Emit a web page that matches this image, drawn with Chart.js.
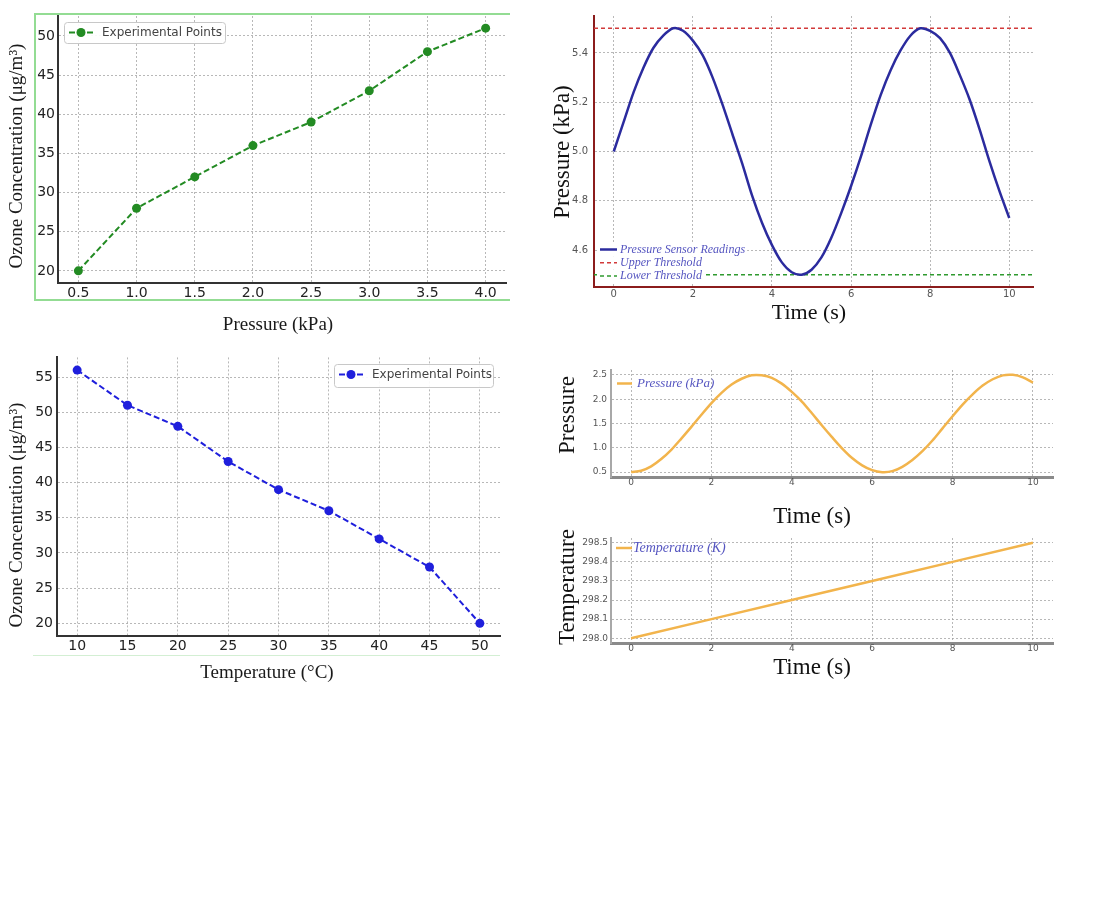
<!DOCTYPE html>
<html><head><meta charset="utf-8">
<script src="https://cdn.jsdelivr.net/npm/chart.js@4.4.1/dist/chart.umd.min.js"></script>
<style>
html,body{margin:0;padding:0;background:#fff;}
body{width:1100px;height:914px;position:relative;overflow:hidden;}
canvas{position:absolute;}
.frame{position:absolute;box-sizing:content-box;}
</style></head><body>
<div class="frame" style="left:34px;top:13px;width:474px;height:284px;border-left:2px solid #93dc93;border-top:2px solid #93dc93;border-bottom:2px solid #93dc93;"></div>
<div class="frame" style="left:33px;top:655px;width:467px;height:0;border-top:1px solid #d3efd3;"></div>
<canvas id="c1" width="520" height="336" style="left:0px;top:4px"></canvas>
<canvas id="c2" width="500" height="336" style="left:550px;top:4px"></canvas>
<canvas id="c3" width="515" height="345" style="left:0px;top:345px"></canvas>
<canvas id="c4" width="515" height="172" style="left:550px;top:360px"></canvas>
<canvas id="c5" width="515" height="160" style="left:550px;top:528px"></canvas>
<script>
// ---------- data ----------
const pressureKPa = [0.5, 1.0, 1.5, 2.0, 2.5, 3.0, 3.5, 4.0];
const ozoneVsPressure = [20, 28, 32, 36, 39, 43, 48, 51];
const temperatureC = [10, 15, 20, 25, 30, 35, 40, 45, 50];
const ozoneVsTemperature = [56, 51, 48, 43, 39, 36, 32, 28, 20];

const sensorTime = [0, 0.25, 0.5, 0.75, 1, 1.25, 1.5, 1.75, 2, 2.25, 2.5, 2.75, 3, 3.25, 3.5, 3.75, 4, 4.25, 4.5, 4.75,
  5, 5.25, 5.5, 5.75, 6, 6.25, 6.5, 6.75, 7, 7.25, 7.5, 7.75, 8, 8.25, 8.5, 8.75, 9, 9.25, 9.5, 9.75, 10];
const sensorPressure = [5.00, 5.12, 5.24, 5.34, 5.42, 5.47, 5.50, 5.49, 5.45, 5.39, 5.30, 5.19, 5.07, 4.95, 4.82, 4.71,
  4.62, 4.55, 4.51, 4.50, 4.52, 4.57, 4.65, 4.75, 4.86, 4.98, 5.11, 5.23, 5.33, 5.41, 5.47, 5.50, 5.49, 5.46, 5.40,
  5.31, 5.21, 5.09, 4.96, 4.84, 4.73];
const upperThreshold = 5.5;
const lowerThreshold = 4.5;

const pressTime = [0, 0.25, 0.5, 0.75, 1, 1.25, 1.5, 1.75, 2, 2.25, 2.5, 2.75, 3, 3.25, 3.5, 3.75, 4, 4.25, 4.5, 4.75,
  5, 5.25, 5.5, 5.75, 6, 6.25, 6.5, 6.75, 7, 7.25, 7.5, 7.75, 8, 8.25, 8.5, 8.75, 9, 9.25, 9.5, 9.75, 10];
const pressureKPaSeries = [0.50, 0.53, 0.62, 0.77, 0.96, 1.19, 1.43, 1.68, 1.92, 2.13, 2.30, 2.42, 2.49, 2.49, 2.44,
  2.32, 2.15, 1.95, 1.71, 1.46, 1.22, 0.99, 0.79, 0.64, 0.54, 0.50, 0.52, 0.61, 0.75, 0.93, 1.15, 1.40, 1.65, 1.89,
  2.10, 2.28, 2.41, 2.49, 2.50, 2.45, 2.34];
const tempTime = [0, 2, 4, 6, 8, 10];
const temperatureK = [298.0, 298.1, 298.2, 298.3, 298.4, 298.5];

// tick labels
const c1XTicks = [0.5, 1.0, 1.5, 2.0, 2.5, 3.0, 3.5, 4.0];
const c1YTicks = [20, 25, 30, 35, 40, 45, 50];
const c2XTicks = [0, 2, 4, 6, 8, 10];
const c2YTicks = [4.6, 4.8, 5.0, 5.2, 5.4];
const c3XTicks = [10, 15, 20, 25, 30, 35, 40, 45, 50];
const c3YTicks = [20, 25, 30, 35, 40, 45, 50, 55];
const c4XTicks = [0, 2, 4, 6, 8, 10];
const c4YTicks = [0.5, 1.0, 1.5, 2.0, 2.5];
const c5YTicks = [298.0, 298.1, 298.2, 298.3, 298.4, 298.5];

// axis ranges
const c2XMin = -0.5, c2XMax = 10.6;

// ---------- helpers ----------
const pts = (xs, ys) => xs.map((x, i) => ({x: x, y: ys[i]}));

const legendPlugin = {
  id: 'customLegend',
  afterDraw(chart, args, o) {
    const ctx = chart.ctx;
    ctx.save();
    if (o.box) {
      const b = o.box;
      ctx.fillStyle = 'rgba(255,255,255,0.92)';
      ctx.strokeStyle = b.color;
      ctx.lineWidth = 1;
      ctx.beginPath();
      ctx.roundRect(b.x + 0.5, b.y + 0.5, b.w, b.h, 3);
      ctx.fill(); ctx.stroke();
    }
    chart.data.datasets.forEach((ds, i) => {
      const y = o.y + i * o.rowH;
      ctx.font = o.font;
      if (o.halo) {
        const tw = ctx.measureText(ds.label).width;
        ctx.fillStyle = '#fff';
        ctx.fillRect(o.x - 3, y - o.rowH / 2, o.lineW + o.gap + tw + 5, o.rowH);
      }
      ctx.strokeStyle = ds.borderColor;
      ctx.lineWidth = ds.borderWidth;
      ctx.setLineDash(ds.borderDash || []);
      ctx.beginPath(); ctx.moveTo(o.x, y); ctx.lineTo(o.x + o.lineW, y); ctx.stroke();
      ctx.setLineDash([]);
      if (ds.pointRadius > 0) {
        ctx.fillStyle = ds.pointBackgroundColor;
        ctx.beginPath(); ctx.arc(o.x + o.lineW / 2, y, ds.pointRadius, 0, Math.PI * 2); ctx.fill();
      }
      ctx.fillStyle = o.color;
      ctx.textAlign = 'left'; ctx.textBaseline = 'middle';
      ctx.fillText(ds.label, o.x + o.lineW + o.gap, y);
    });
    ctx.restore();
  }
};

const titlePlugin = {
  id: 'axisTitles',
  afterDraw(chart, args, o) {
    const ctx = chart.ctx;
    (o.items || []).forEach(t => {
      ctx.save();
      ctx.translate(t.x, t.y);
      if (t.rot) ctx.rotate(-Math.PI / 2);
      ctx.font = t.font; ctx.fillStyle = t.color || '#111';
      ctx.textAlign = 'center'; ctx.textBaseline = 'middle';
      ctx.fillText(t.text, 0, 0);
      ctx.restore();
    });
  }
};

function axis(o) {
  return {
    type: 'linear', min: o.min, max: o.max,
    afterBuildTicks: s => { s.ticks = o.ticks.map(v => ({value: v})); },
    afterFit: s => { if (o.width !== undefined) s.width = o.width; if (o.height !== undefined) s.height = o.height; },
    ticks: {autoSkip: false, maxRotation: 0, padding: o.pad, color: o.tickColor,
      font: {family: 'DejaVu Sans', size: o.tickSize},
      callback: v => o.fmt(v)},
    grid: {color: o.gridColor || 'rgba(160,160,160,0.75)', lineWidth: 1, drawTicks: false},
    border: {display: true, color: o.borderColor, width: o.borderWidth, dash: [2, 2]}
  };
}

function base(padding, scales, legend, titles) {
  return {
    responsive: false, animation: false, devicePixelRatio: 1,
    layout: {padding: padding},
    scales: scales,
    plugins: {legend: {display: false}, tooltip: {enabled: false}, customLegend: legend, axisTitles: titles}
  };
}

const serif = 'Liberation Serif';
const fmt1 = v => v.toFixed(1);
const fmt0 = v => String(v);

// ---------- chart 1 ----------
new Chart(document.getElementById('c1'), {
  type: 'line',
  data: {datasets: [{
    label: 'Experimental Points', data: pts(pressureKPa, ozoneVsPressure),
    borderColor: '#238b23', borderWidth: 2, borderDash: [6, 3],
    pointRadius: 4.5, pointBackgroundColor: '#238b23', pointBorderWidth: 0, tension: 0
  }]},
  options: base({top: 12, right: 14, left: 0, bottom: 0}, {
    x: axis({min: 0.325, max: 4.175, ticks: c1XTicks, fmt: fmt1, height: 57, pad: 2, tickColor: '#222', tickSize: 14, borderColor: '#333', borderWidth: 2}),
    y: axis({min: 18.45, max: 52.55, ticks: c1YTicks, fmt: fmt0, width: 58, pad: 3, tickColor: '#222', tickSize: 14, borderColor: '#333', borderWidth: 2})
  },
  {x: 69, y: 28.5, rowH: 0, lineW: 24, gap: 9, font: '12px "DejaVu Sans"', color: '#444',
   box: {x: 64, y: 18, w: 161, h: 21, color: '#c8c8c8'}},
  {items: [
    {text: 'Ozone Concentration (μg/m³)', x: 17, y: 152, rot: true, font: '19px "' + serif + '"', color: '#1a1a1a'},
    {text: 'Pressure (kPa)', x: 278, y: 321, font: '19px "' + serif + '"', color: '#1a1a1a'}
  ]}),
  plugins: [legendPlugin, titlePlugin]
});

// ---------- chart 2 ----------
new Chart(document.getElementById('c2'), {
  type: 'line',
  data: {datasets: [
    {label: 'Pressure Sensor Readings', data: pts(sensorTime, sensorPressure),
     borderColor: '#2b2b9e', borderWidth: 2.5, pointRadius: 0, tension: 0.3},
    {label: 'Upper Threshold', data: [{x: c2XMin, y: upperThreshold}, {x: c2XMax, y: upperThreshold}],
     borderColor: '#d23a3a', borderWidth: 1.5, borderDash: [4, 3], pointRadius: 0},
    {label: 'Lower Threshold', data: [{x: c2XMin, y: lowerThreshold}, {x: c2XMax, y: lowerThreshold}],
     borderColor: '#2f9a2f', borderWidth: 1.5, borderDash: [4, 3], pointRadius: 0}
  ]},
  options: base({top: 12, right: 17, left: 0, bottom: 0}, {
    x: axis({min: c2XMin, max: c2XMax, ticks: c2XTicks, fmt: fmt0, height: 53, pad: 1, tickColor: '#555', tickSize: 10, borderColor: '#8b1c1c', borderWidth: 2}),
    y: axis({min: 4.45, max: 5.55, ticks: c2YTicks, fmt: fmt1, width: 44, pad: 6, tickColor: '#555', tickSize: 10, borderColor: '#8b1c1c', borderWidth: 2})
  },
  {x: 50, y: 245.5, rowH: 13.3, lineW: 17, gap: 3, font: 'italic 12px "' + serif + '"', color: '#5555c0', box: null, halo: true},
  {items: [
    {text: 'Pressure (kPa)', x: 13, y: 148, rot: true, font: '23px "' + serif + '"', color: '#111'},
    {text: 'Time (s)', x: 259, y: 309, font: '22px "' + serif + '"', color: '#111'}
  ]}),
  plugins: [legendPlugin, titlePlugin]
});

// ---------- chart 3 ----------
new Chart(document.getElementById('c3'), {
  type: 'line',
  data: {datasets: [{
    label: 'Experimental Points', data: pts(temperatureC, ozoneVsTemperature),
    borderColor: '#1f1fdc', borderWidth: 2, borderDash: [6, 3],
    pointRadius: 4.5, pointBackgroundColor: '#1f1fdc', pointBorderWidth: 0, tension: 0
  }]},
  options: base({top: 12, right: 15, left: 0, bottom: 0}, {
    x: axis({min: 8, max: 52, ticks: c3XTicks, fmt: fmt0, height: 54, pad: 2, tickColor: '#222', tickSize: 14, borderColor: '#333', borderWidth: 2}),
    y: axis({min: 18.2, max: 57.8, ticks: c3YTicks, fmt: fmt0, width: 57, pad: 4, tickColor: '#222', tickSize: 14, borderColor: '#333', borderWidth: 2})
  },
  {x: 339, y: 29.5, rowH: 0, lineW: 24, gap: 9, font: '12px "DejaVu Sans"', color: '#444',
   box: {x: 334, y: 19, w: 159, h: 23, color: '#c8c8c8'}},
  {items: [
    {text: 'Ozone Concentration (μg/m³)', x: 17, y: 170, rot: true, font: '19px "' + serif + '"', color: '#1a1a1a'},
    {text: 'Temperature (°C)', x: 267, y: 328, font: '19px "' + serif + '"', color: '#1a1a1a'}
  ]}),
  plugins: [legendPlugin, titlePlugin]
});

// ---------- chart 4 ----------
new Chart(document.getElementById('c4'), {
  type: 'line',
  data: {datasets: [{
    label: 'Pressure (kPa)', data: pts(pressTime, pressureKPaSeries),
    borderColor: '#f2b44c', borderWidth: 2.5, pointRadius: 0, tension: 0.3
  }]},
  options: base({top: 10, right: 12, left: 0, bottom: 0}, {
    x: axis({min: -0.5, max: 10.5, ticks: c4XTicks, fmt: fmt0, height: 55, pad: 0, tickColor: '#555', tickSize: 9, borderColor: '#8a8a8a', borderWidth: 3}),
    y: axis({min: 0.4, max: 2.6, ticks: c4YTicks, fmt: fmt1, width: 61, pad: 4, tickColor: '#555', tickSize: 9, borderColor: '#a8a8a8', borderWidth: 2})
  },
  {x: 67, y: 23.5, rowH: 0, lineW: 15, gap: 5, font: 'italic 13px "' + serif + '"', color: '#5555c0', box: null},
  {items: [
    {text: 'Pressure', x: 18, y: 55, rot: true, font: '23px "' + serif + '"', color: '#111'},
    {text: 'Time (s)', x: 262, y: 157, font: '23px "' + serif + '"', color: '#111'}
  ]}),
  plugins: [legendPlugin, titlePlugin]
});

// ---------- chart 5 ----------
new Chart(document.getElementById('c5'), {
  type: 'line',
  data: {datasets: [{
    label: 'Temperature (K)', data: pts(tempTime, temperatureK),
    borderColor: '#f2b44c', borderWidth: 2.5, pointRadius: 0, tension: 0
  }]},
  options: base({top: 10, right: 12, left: 0, bottom: 0}, {
    x: axis({min: -0.5, max: 10.5, ticks: c4XTicks, fmt: fmt0, height: 45, pad: 0, tickColor: '#555', tickSize: 9, borderColor: '#8a8a8a', borderWidth: 3}),
    y: axis({min: 297.975, max: 298.525, ticks: c5YTicks, fmt: fmt1, width: 61, pad: 3, tickColor: '#555', tickSize: 9, borderColor: '#a8a8a8', borderWidth: 2})
  },
  {x: 66, y: 20, rowH: 0, lineW: 16, gap: 1, font: 'italic 14px "' + serif + '"', color: '#5555c0', box: null},
  {items: [
    {text: 'Temperature', x: 18, y: 59, rot: true, font: '23px "' + serif + '"', color: '#111'},
    {text: 'Time (s)', x: 262, y: 140, font: '23px "' + serif + '"', color: '#111'}
  ]}),
  plugins: [legendPlugin, titlePlugin]
});
</script>
</body></html>
